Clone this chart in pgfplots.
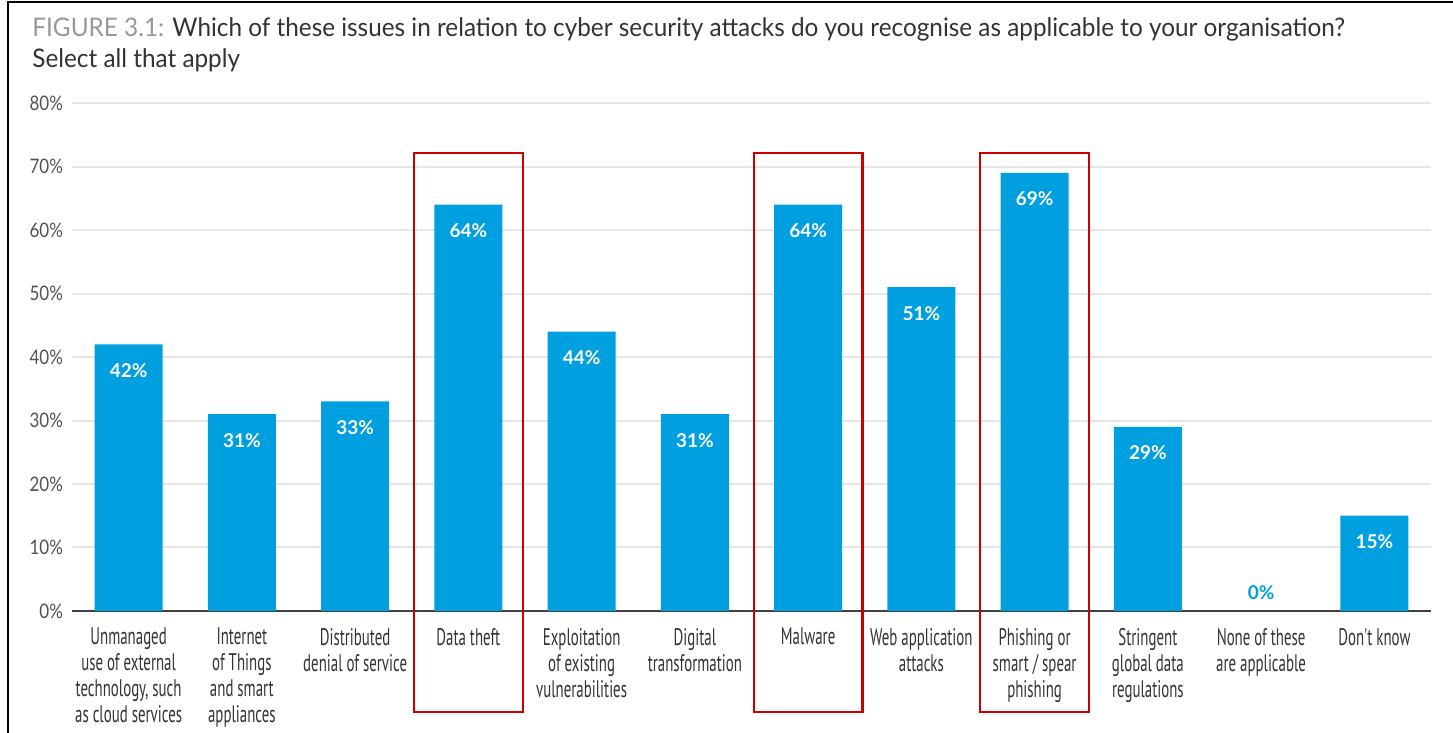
\documentclass[border=0pt]{standalone}
\usepackage{pgfplots}
\pgfplotsset{compat=1.18}
\usepackage{fontspec}
\setmainfont{Lato}
\newfontfamily\titlefont[FakeStretch=0.95]{Lato}
\newfontfamily\labelfont[FakeStretch=0.62]{PT Sans}
\newfontfamily\tickfont[FakeStretch=0.85]{Lato}

\definecolor{barblue}{HTML}{009FDF}
\definecolor{boxred}{HTML}{CC0000}
\definecolor{gridgray}{HTML}{E6E6E6}
\definecolor{txt}{HTML}{333333}
\definecolor{figgray}{HTML}{999999}
\definecolor{axisgray}{HTML}{404040}

\begin{document}
\begin{tikzpicture}
\path[use as bounding box] (-36pt,-61pt) rectangle (690.5pt,305.5pt);
\begin{axis}[
  at={(0,0)}, anchor=south west,
  scale only axis,
  width=679.5pt, height=254pt,
  ybar, bar width=0.6, bar shift=0pt,
  xmin=-0.5, xmax=11.5,
  ymin=0, ymax=80,
  ytick={0,10,...,80},
  /pgf/number format/assume math mode=true,
  yticklabel={\pgfmathprintnumber{\tick}\%},
  ymajorgrids,
  grid style={gridgray, line width=1pt},
  axis lines*=left,
  y axis line style={draw=none},
  x axis line style={axisgray, line width=1pt},
  major tick length=0pt,
  xtick={0,...,11},
  xticklabels={
    {Unmanaged\\use of external\\technology, such\\as cloud services},
    {Internet\\of Things\\and smart\\appliances},
    {Distributed\\denial of service},
    {Data theft},
    {Exploitation\\of existing\\vulnerabilities},
    {Digital\\transformation},
    {Malware},
    {Web application\\attacks},
    {Phishing or\\smart / spear\\phishing},
    {Stringent\\global data\\regulations},
    {None of these\\are applicable},
    {Don't know}},
  xticklabel style={align=center, font=\labelfont\fontsize{12}{13}\selectfont,
    text=txt, anchor=north, yshift=-5pt},
  yticklabel style={font=\tickfont\fontsize{10}{12}\selectfont, text=txt!85, xshift=-1pt},
  clip=false,
]
\addplot[fill=barblue, draw=none,
  nodes near coords={\pgfmathprintnumber{\pgfplotspointmeta}\%},
  every node near coord/.style={anchor=center, yshift=-13pt, text=white,
    font=\bfseries\fontsize{9.5}{11}\selectfont}]
  coordinates {(0,42) (1,31) (2,33) (3,64) (4,44) (5,31) (6,64) (7,51) (8,69) (9,29) (11,15)};
\addplot[fill=none, draw=none,
  nodes near coords={\pgfmathprintnumber{\pgfplotspointmeta}\%},
  every node near coord/.style={anchor=center, yshift=9pt, text=barblue,
    font=\bfseries\fontsize{9.5}{11}\selectfont}]
  coordinates {(10,0)};
\draw[boxred, line width=1.2pt] (axis cs:2.52,-15.9) rectangle (axis cs:3.48,72.1);
\draw[boxred, line width=1.2pt] (axis cs:5.52,-15.9) rectangle (axis cs:6.48,72.1);
\draw[boxred, line width=1.2pt] (axis cs:7.52,-15.9) rectangle (axis cs:8.48,72.1);
\end{axis}
\draw[black, line width=1pt] (-32pt,-61pt) -- (-32pt,304.5pt) -- (690.5pt,304.5pt);
\node[anchor=base west, inner sep=0pt, font=\titlefont\fontsize{12.8}{15}\selectfont, text=txt]
  at (-20pt,287pt) {\textcolor{figgray}{FIGURE 3.1:} Which of these issues in relation to cyber security attacks do you recognise as applicable to your organisation?};
\node[anchor=base west, inner sep=0pt, font=\titlefont\fontsize{12.8}{15}\selectfont, text=txt]
  at (-20pt,271.5pt) {Select all that apply};
\end{tikzpicture}
\end{document}
